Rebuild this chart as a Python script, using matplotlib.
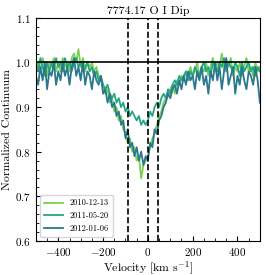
import numpy as np
import matplotlib
matplotlib.use("Agg")
import matplotlib.pyplot as plt
from matplotlib.ticker import MultipleLocator

plt.rcParams['font.family'] = ['cmr10', 'DejaVu Serif']
plt.rcParams['mathtext.fontset'] = 'cm'
plt.rcParams['axes.formatter.use_mathtext'] = True

# velocity grid (km/s)
velocity = np.arange(-500, 501, 10)

# normalized flux
flux_2010 = [
    0.99, 1.00, 0.98, 1.01, 0.99, 0.97, 1.00, 0.99, 1.01, 0.98,
    1.00, 0.98, 1.01, 0.99, 1.00, 0.98, 1.01, 1.02, 1.00, 1.03,
    0.99, 1.01, 0.98, 1.00, 0.99, 1.00, 0.98, 0.99, 0.97, 0.96,
    0.95, 0.93, 0.94, 0.91, 0.92, 0.89, 0.90, 0.87, 0.88, 0.85,
    0.84, 0.82, 0.83, 0.80, 0.81, 0.78, 0.79, 0.74, 0.77, 0.78,
    0.79, 0.81, 0.83, 0.84, 0.86, 0.88, 0.89, 0.91, 0.92, 0.93,
    0.94, 0.95, 0.93, 0.96, 0.95, 0.97, 0.96, 0.98, 0.97, 0.99,
    0.97, 0.98, 1.00, 0.97, 0.99, 0.98, 1.00, 0.97, 0.99, 1.01,
    0.98, 1.00, 0.99, 1.02, 0.98, 1.00, 0.99, 1.01, 0.97, 0.99,
    0.98, 1.00, 0.97, 0.99, 1.01, 0.98, 0.99, 0.97, 1.00, 0.98,
    0.99,
]
flux_2011 = [
    1.00, 0.98, 1.01, 0.99, 0.97, 1.00, 0.98, 1.00, 0.99, 1.01,
    0.99, 1.00, 0.98, 1.01, 0.99, 1.00, 0.98, 1.00, 1.01, 0.99,
    1.00, 0.98, 0.99, 1.00, 0.98, 0.99, 0.97, 0.98, 0.96, 0.97,
    0.95, 0.94, 0.95, 0.93, 0.92, 0.93, 0.91, 0.92, 0.90, 0.91,
    0.89, 0.90, 0.88, 0.89, 0.88, 0.87, 0.88, 0.86, 0.87, 0.86,
    0.87, 0.89, 0.88, 0.90, 0.91, 0.90, 0.92, 0.93, 0.92, 0.94,
    0.93, 0.95, 0.96, 0.95, 0.97, 0.96, 0.97, 0.98, 0.96, 0.98,
    0.97, 0.99, 0.98, 0.97, 0.99, 1.00, 0.98, 0.99, 0.97, 1.00,
    0.99, 0.98, 1.00, 0.99, 1.01, 0.98, 1.00, 0.99, 0.98, 1.00,
    0.99, 0.97, 1.00, 0.98, 0.99, 1.00, 0.98, 0.99, 0.97, 0.99,
    0.98,
]
flux_2012 = [
    0.97, 0.95, 0.99, 0.96, 1.00, 0.94, 0.98, 0.97, 1.00, 0.95,
    0.98, 0.96, 1.00, 0.97, 0.99, 0.95, 0.99, 1.01, 0.97, 0.99,
    0.96, 1.00, 0.95, 0.98, 0.97, 0.94, 0.98, 0.96, 0.95, 0.97,
    0.93, 0.94, 0.91, 0.93, 0.90, 0.91, 0.88, 0.89, 0.86, 0.87,
    0.83, 0.85, 0.81, 0.82, 0.79, 0.81, 0.78, 0.80, 0.77, 0.79,
    0.78, 0.82, 0.81, 0.85, 0.84, 0.87, 0.88, 0.90, 0.91, 0.93,
    0.92, 0.94, 0.95, 0.93, 0.96, 0.94, 0.97, 0.95, 0.98, 0.96,
    0.97, 0.94, 0.98, 0.96, 0.99, 0.95, 0.97, 0.93, 0.98, 0.96,
    1.00, 0.96, 0.99, 0.94, 0.98, 1.01, 0.95, 0.97, 0.99, 0.93,
    0.97, 0.95, 0.99, 0.96, 0.94, 0.98, 0.97, 0.95, 0.99, 0.96,
    0.91,
]
dates = ["2010-12-13", "2011-05-20", "2012-01-06"]
colors = ["#7ad151", "#22a884", "#2a788e"]
marker_velocities = [-90, 0, 45]

fig = plt.figure(figsize=(2.66, 2.75), dpi=100)
ax = fig.add_axes([0.135, 0.124, 0.842, 0.811])

for flux, date, c in zip([flux_2010, flux_2011, flux_2012], dates, colors):
    ax.plot(velocity, flux, color=c, lw=1.3, label=date)

ax.axhline(1.0, color="k", lw=1.2)
for v in marker_velocities:
    ax.axvline(v, color="k", ls="--", lw=1.2)

ax.set_xlim(-500, 500)
ax.set_ylim(0.6, 1.1)
ax.xaxis.set_major_locator(MultipleLocator(200))
ax.xaxis.set_minor_locator(MultipleLocator(50))
ax.yaxis.set_major_locator(MultipleLocator(0.1))
ax.yaxis.set_minor_locator(MultipleLocator(0.02))
ax.tick_params(which="both", direction="in", labelsize=8)
ax.tick_params(which="major", length=3.5)
ax.tick_params(which="minor", length=2)

ax.set_xlabel(r"Velocity [km s$^{-1}$]", fontsize=8.5, labelpad=1)
ax.set_ylabel("Normalized Continuum", fontsize=8.5, labelpad=2)
ax.set_title("7774.17 O I Dip", fontsize=8.5, pad=3)
ax.legend(loc="lower left", fontsize=6, handlelength=2.2, borderpad=0.5,
          labelspacing=0.5, framealpha=0.8)

fig.savefig("out.png", dpi=100)
